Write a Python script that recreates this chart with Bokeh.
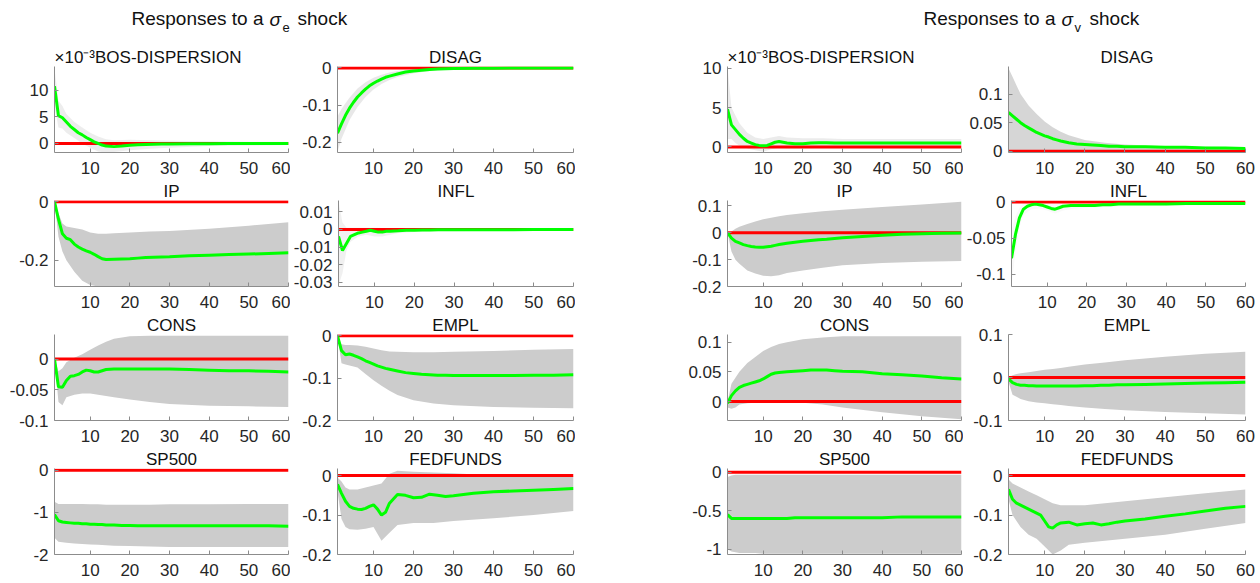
from bokeh.plotting import figure
from bokeh.layouts import column, row, Spacer
from bokeh.models import Range1d, FixedTicker, CustomJSTickFormatter, Title
from bokeh.embed import file_html
from bokeh.resources import INLINE
from bokeh.core.properties import value

# ---------------- data ----------------
horizon = [1, 2, 3, 4, 5, 6, 7, 8, 9, 10, 11, 12, 13, 14, 16, 18, 20, 22, 24, 26, 28, 30, 35, 40, 45, 50, 55, 60]
horizon_band = [1, 2, 3, 4, 6, 8, 10, 12, 14, 16, 20, 25, 30, 40, 50, 60]
zero_response = [0.0] * len(horizon)

variables = ["BOS-DISPERSION", "DISAG", "IP", "INFL", "CONS", "EMPL", "SP500", "FEDFUNDS"]
sci_prefix = "×10⁻³"   # BOS-DISPERSION is shown in units of 1e-3

# ---- responses to a sigma_e shock (BOS-DISPERSION in units of 1e-3) ----
bos_e_med = [10.7, 5.2, 4.8, 4.0, 3.2, 2.6, 2.0, 1.6, 1.1, 0.7, 0.3, 0.0, -0.3, -0.5, -0.6, -0.5, -0.35, -0.25, -0.2, -0.15, -0.1, -0.1, -0.05, -0.05, 0.0, 0.0, 0.0, 0.0]
bos_e_lo = [7.0, 3.0, 2.8, 2.0, 1.0, 0.0, -0.8, -1.5, -1.7, -1.6, -1.3, -1.0, -0.8, -0.5, -0.4, -0.3]
bos_e_hi = [14.0, 8.0, 7.0, 5.5, 4.0, 3.0, 2.0, 1.3, 0.8, 0.6, 0.7, 0.6, 0.5, 0.4, 0.3, 0.3]

disag_e_med = [-0.175, -0.15, -0.127, -0.108, -0.092, -0.078, -0.067, -0.057, -0.048, -0.041, -0.035, -0.03, -0.025, -0.022, -0.016, -0.011, -0.008, -0.006, -0.004, -0.003, -0.002, -0.0015, -0.001, -0.0005, -0.0003, -0.0002, -0.0001, 0.0]
disag_e_lo = [-0.225, -0.19, -0.165, -0.14, -0.105, -0.078, -0.058, -0.043, -0.032, -0.024, -0.014, -0.007, -0.004, -0.002, -0.001, -0.001]
disag_e_hi = [-0.13, -0.11, -0.095, -0.08, -0.055, -0.038, -0.026, -0.018, -0.012, -0.008, -0.004, -0.001, 0.001, 0.001, 0.001, 0.001]

ip_e_med = [0.0, -0.06, -0.11, -0.125, -0.13, -0.145, -0.155, -0.162, -0.168, -0.173, -0.18, -0.188, -0.195, -0.198, -0.197, -0.196, -0.195, -0.193, -0.191, -0.19, -0.189, -0.188, -0.185, -0.183, -0.181, -0.179, -0.177, -0.175]
ip_e_lo = [0.0, -0.12, -0.17, -0.2, -0.24, -0.27, -0.285, -0.29, -0.29, -0.29, -0.29, -0.29, -0.29, -0.29, -0.29, -0.29]
ip_e_hi = [0.0, -0.04, -0.075, -0.085, -0.09, -0.095, -0.105, -0.11, -0.11, -0.108, -0.105, -0.102, -0.1, -0.093, -0.082, -0.07]

infl_e_med = [-0.004, -0.012, -0.008, -0.004, -0.003, -0.002, -0.0015, -0.001, -0.0005, -0.001, -0.0015, -0.0015, -0.001, -0.001, -0.0008, -0.0005, -0.0004, -0.0003, -0.0003, -0.0002, -0.0002, -0.0002, -0.0001, -0.0001, -0.0001, 0.0, 0.0, 0.0]
infl_e_lo = [-0.032, -0.025, -0.012, -0.007, -0.004, -0.003, -0.004, -0.004, -0.003, -0.002, -0.0015, -0.001, -0.001, -0.0008, -0.0006, -0.0005]
infl_e_hi = [0.016, 0.004, 0.001, 0.001, 0.001, 0.001, 0.001, 0.0008, 0.0008, 0.0007, 0.0006, 0.0006, 0.0005, 0.0005, 0.0005, 0.0005]

cons_e_med = [0.0, -0.045, -0.046, -0.035, -0.028, -0.027, -0.025, -0.021, -0.018, -0.019, -0.021, -0.021, -0.019, -0.017, -0.016, -0.016, -0.016, -0.016, -0.016, -0.016, -0.016, -0.016, -0.017, -0.018, -0.019, -0.019, -0.02, -0.021]
cons_e_lo = [0.0, -0.07, -0.075, -0.062, -0.058, -0.056, -0.056, -0.058, -0.06, -0.062, -0.066, -0.07, -0.073, -0.076, -0.077, -0.078]
cons_e_hi = [0.0, -0.02, -0.015, -0.005, 0.002, 0.008, 0.015, 0.022, 0.028, 0.033, 0.037, 0.038, 0.038, 0.038, 0.038, 0.038]

empl_e_med = [0.0, -0.035, -0.045, -0.043, -0.046, -0.05, -0.054, -0.059, -0.063, -0.067, -0.071, -0.074, -0.077, -0.079, -0.083, -0.087, -0.089, -0.091, -0.092, -0.093, -0.093, -0.094, -0.094, -0.094, -0.094, -0.093, -0.093, -0.092]
empl_e_lo = [0.0, -0.065, -0.068, -0.07, -0.075, -0.09, -0.105, -0.118, -0.13, -0.14, -0.152, -0.16, -0.164, -0.168, -0.17, -0.171]
empl_e_hi = [0.0, -0.02, -0.022, -0.022, -0.023, -0.026, -0.03, -0.034, -0.037, -0.038, -0.039, -0.039, -0.038, -0.036, -0.033, -0.031]

sp500_e_med = [-1.05, -1.2, -1.23, -1.24, -1.25, -1.26, -1.26, -1.27, -1.27, -1.28, -1.28, -1.29, -1.29, -1.3, -1.3, -1.31, -1.31, -1.32, -1.32, -1.32, -1.32, -1.32, -1.32, -1.32, -1.32, -1.32, -1.32, -1.33]
sp500_e_lo = [-1.6, -1.7, -1.71, -1.72, -1.74, -1.75, -1.76, -1.77, -1.78, -1.79, -1.8, -1.81, -1.82, -1.82, -1.82, -1.82]
sp500_e_hi = [-0.75, -0.8, -0.8, -0.8, -0.8, -0.8, -0.81, -0.81, -0.82, -0.82, -0.82, -0.82, -0.81, -0.81, -0.8, -0.8]

fed_e_med = [-0.022, -0.045, -0.065, -0.078, -0.083, -0.085, -0.086, -0.083, -0.078, -0.074, -0.085, -0.1, -0.093, -0.07, -0.048, -0.05, -0.056, -0.055, -0.047, -0.05, -0.053, -0.051, -0.045, -0.041, -0.039, -0.037, -0.035, -0.033]
fed_e_lo = [-0.04, -0.11, -0.13, -0.136, -0.137, -0.135, -0.13, -0.165, -0.145, -0.125, -0.12, -0.12, -0.115, -0.108, -0.1, -0.09]
fed_e_hi = [-0.005, -0.015, -0.03, -0.035, -0.035, -0.03, -0.025, -0.02, 0.005, 0.012, 0.01, 0.008, 0.006, 0.0, 0.0, -0.002]

# ---- responses to a sigma_v shock ----
bos_v_med = [4.8, 2.8, 2.2, 1.6, 1.1, 0.7, 0.5, 0.3, 0.2, 0.15, 0.2, 0.4, 0.6, 0.7, 0.5, 0.4, 0.4, 0.5, 0.55, 0.55, 0.5, 0.5, 0.5, 0.5, 0.5, 0.5, 0.5, 0.5]
bos_v_lo = [1.0, 1.0, 0.5, 0.2, -0.2, -0.4, -0.6, -0.3, -0.1, -0.2, -0.2, -0.1, -0.1, -0.1, -0.1, -0.1]
bos_v_hi = [10.0, 5.0, 4.0, 3.0, 1.8, 1.2, 1.0, 1.2, 1.4, 1.2, 1.1, 1.1, 1.0, 1.0, 1.0, 1.0]

disag_v_med = [0.068, 0.062, 0.056, 0.05, 0.045, 0.041, 0.037, 0.033, 0.03, 0.027, 0.025, 0.022, 0.02, 0.018, 0.015, 0.013, 0.012, 0.011, 0.01, 0.009, 0.009, 0.008, 0.008, 0.007, 0.007, 0.006, 0.006, 0.005]
disag_v_lo = [0.002, 0.002, 0.002, 0.002, 0.001, 0.001, 0.001, 0.001, 0.001, 0.001, 0.001, 0.001, 0.001, 0.001, 0.001, 0.001]
disag_v_hi = [0.145, 0.13, 0.115, 0.1, 0.08, 0.065, 0.052, 0.042, 0.034, 0.028, 0.02, 0.015, 0.012, 0.009, 0.008, 0.007]

ip_v_med = [0.0, -0.02, -0.032, -0.038, -0.044, -0.048, -0.051, -0.053, -0.054, -0.054, -0.052, -0.05, -0.047, -0.044, -0.039, -0.035, -0.032, -0.029, -0.026, -0.024, -0.021, -0.019, -0.014, -0.009, -0.006, -0.004, -0.002, -0.001]
ip_v_lo = [0.0, -0.07, -0.1, -0.115, -0.14, -0.152, -0.16, -0.162, -0.158, -0.15, -0.14, -0.13, -0.121, -0.113, -0.108, -0.105]
ip_v_hi = [0.0, 0.005, 0.015, 0.022, 0.033, 0.042, 0.05, 0.056, 0.061, 0.066, 0.073, 0.08, 0.086, 0.096, 0.105, 0.115]

infl_v_med = [-0.078, -0.045, -0.022, -0.01, -0.006, -0.004, -0.003, -0.004, -0.005, -0.007, -0.009, -0.01, -0.008, -0.006, -0.005, -0.005, -0.005, -0.005, -0.004, -0.004, -0.003, -0.003, -0.003, -0.003, -0.002, -0.002, -0.002, -0.002]
infl_v_lo = [-0.115, -0.07, -0.035, -0.018, -0.01, -0.009, -0.012, -0.016, -0.012, -0.01, -0.008, -0.007, -0.006, -0.005, -0.005, -0.004]
infl_v_hi = [-0.04, -0.02, -0.008, -0.002, 0.0, 0.0, 0.0, -0.002, 0.0, 0.0, 0.0, 0.0, 0.0, 0.0, 0.0, 0.0]

cons_v_med = [-0.003, 0.01, 0.018, 0.024, 0.027, 0.029, 0.031, 0.033, 0.035, 0.038, 0.042, 0.046, 0.048, 0.049, 0.05, 0.051, 0.052, 0.053, 0.053, 0.053, 0.052, 0.051, 0.05, 0.047, 0.045, 0.043, 0.04, 0.038]
cons_v_lo = [-0.01, -0.012, -0.01, -0.005, -0.003, -0.002, -0.001, 0.0, 0.0, 0.0, -0.002, -0.005, -0.01, -0.018, -0.025, -0.03]
cons_v_hi = [0.0, 0.03, 0.04, 0.05, 0.065, 0.075, 0.085, 0.092, 0.097, 0.1, 0.105, 0.108, 0.11, 0.11, 0.11, 0.11]

empl_v_med = [-0.003, -0.012, -0.016, -0.018, -0.018, -0.019, -0.019, -0.02, -0.02, -0.02, -0.02, -0.02, -0.02, -0.02, -0.02, -0.02, -0.019, -0.019, -0.018, -0.018, -0.017, -0.017, -0.016, -0.015, -0.014, -0.013, -0.012, -0.011]
empl_v_lo = [-0.01, -0.04, -0.045, -0.05, -0.055, -0.058, -0.06, -0.062, -0.064, -0.066, -0.07, -0.073, -0.076, -0.08, -0.083, -0.086]
empl_v_hi = [0.0, 0.005, 0.008, 0.01, 0.012, 0.015, 0.018, 0.02, 0.022, 0.025, 0.03, 0.035, 0.04, 0.048, 0.055, 0.06]

sp500_v_med = [-0.55, -0.6, -0.6, -0.6, -0.6, -0.6, -0.6, -0.6, -0.6, -0.6, -0.6, -0.6, -0.6, -0.6, -0.6, -0.59, -0.59, -0.59, -0.59, -0.59, -0.59, -0.59, -0.59, -0.59, -0.58, -0.58, -0.58, -0.58]
sp500_v_lo = [-1.0, -1.03, -1.04, -1.05, -1.05, -1.05, -1.06, -1.06, -1.06, -1.06, -1.06, -1.06, -1.06, -1.06, -1.06, -1.06]
sp500_v_hi = [-0.06, -0.04, -0.03, -0.03, -0.03, -0.03, -0.03, -0.03, -0.03, -0.03, -0.03, -0.03, -0.03, -0.03, -0.03, -0.03]

fed_v_med = [-0.035, -0.06, -0.07, -0.075, -0.08, -0.085, -0.09, -0.095, -0.1, -0.115, -0.13, -0.133, -0.125, -0.12, -0.118, -0.125, -0.122, -0.12, -0.125, -0.122, -0.118, -0.115, -0.11, -0.103, -0.097, -0.09, -0.083, -0.078]
fed_v_lo = [-0.06, -0.1, -0.115, -0.13, -0.15, -0.16, -0.18, -0.2, -0.19, -0.175, -0.17, -0.165, -0.16, -0.15, -0.135, -0.12]
fed_v_hi = [-0.01, -0.02, -0.025, -0.03, -0.04, -0.05, -0.06, -0.07, -0.075, -0.075, -0.075, -0.07, -0.065, -0.055, -0.045, -0.035]

x_ticks = [10, 20, 30, 40, 50, 60]

# y ticks per panel
yticks_e = [[0, 5, 10], [-0.2, -0.1, 0], [-0.2, 0], [-0.03, -0.02, -0.01, 0, 0.01],
            [-0.1, -0.05, 0], [-0.2, -0.1, 0], [-2, -1, 0], [-0.2, -0.1, 0]]
yticks_v = [[0, 5, 10], [0, 0.05, 0.1], [-0.2, -0.1, 0, 0.1], [-0.1, -0.05, 0],
            [0, 0.05, 0.1], [-0.1, 0, 0.1], [-1, -0.5, 0], [-0.2, -0.1, 0]]

# ---------------- styles / layout ----------------
ylim_e = [(-1.7, 14.4), (-0.227, 0.004), (-0.29, 0.004), (-0.0325, 0.0165),
          (-0.1, 0.04), (-0.2, 0.003), (-2.0, 0.04), (-0.2, 0.018)]
ylim_v = [(-0.7, 10.2), (-0.002, 0.148), (-0.2, 0.12), (-0.117, 0.002),
          (-0.032, 0.113), (-0.1, 0.1), (-1.07, 0.05), (-0.2, 0.018)]
band_alpha_e = [0.35, 0.45, 1.0, 0.3, 1.0, 1.0, 1.0, 1.0]
band_alpha_v = [0.4, 0.8, 1.0, 0.12, 1.0, 1.0, 1.0, 1.0]

FONT = "Liberation Sans"
BAND = "#cccccc"
GREEN = "#00ff00"
RED = "#ff0000"
AXIS = "#8c8c8c"
TXT = "#262626"

BORDER_TOP = 20
FRAME_H = 87
BORDER_BOT = 27
HEADER_H = 45

# (width, min_border_left, min_border_right) for the 4 panel columns
col_specs = [(290, 54, 2), (285, 47, 2), (283, 47, 2), (295, 45, 13)]
GROUP_GAP = 105

fmt = CustomJSTickFormatter(code="return String(Math.round(tick*1e6)/1e6);")


def make_panel(name, med, lo, hi, ylim, yticks, band_alpha, spec, sci):
    width, bl, br = spec
    p = figure(width=width, height=BORDER_TOP + FRAME_H + BORDER_BOT,
               x_range=Range1d(1, 60), y_range=Range1d(*ylim),
               output_backend="svg", toolbar_location=None, title=None,
               min_border_left=bl, min_border_right=br,
               min_border_top=BORDER_TOP, min_border_bottom=BORDER_BOT)
    p.grid.visible = False
    p.outline_line_color = None
    p.background_fill_color = "white"
    p.border_fill_color = "white"

    p.varea(x=horizon_band, y1=lo, y2=hi, fill_color=BAND, fill_alpha=band_alpha)
    p.line(horizon, zero_response, line_color=RED, line_width=3)
    p.line(horizon, med, line_color=GREEN, line_width=3)

    p.xaxis.ticker = FixedTicker(ticks=x_ticks, minor_ticks=[])
    p.yaxis.ticker = FixedTicker(ticks=yticks, minor_ticks=[])
    p.yaxis.formatter = fmt
    for ax in (p.xaxis[0], p.yaxis[0]):
        ax.axis_line_color = AXIS
        ax.axis_line_width = 1
        ax.major_tick_line_color = AXIS
        ax.major_tick_in = 4
        ax.major_tick_out = 0
        ax.minor_tick_line_color = None
        ax.major_label_text_font = FONT
        ax.major_label_text_font_size = "17px"
        ax.major_label_text_color = TXT
    p.xaxis.major_label_standoff = 9
    p.yaxis.major_label_standoff = 6

    if sci:
        t = Title(text=sci_prefix + name, align="left", offset=0)
    else:
        t = Title(text=name, align="center")
    t.text_font = FONT
    t.text_font_size = "17px"
    t.text_font_style = "normal"
    t.text_color = "#111111"
    t.standoff = 0
    p.add_layout(t, "above")
    return p


series_e = [(bos_e_med, bos_e_lo, bos_e_hi), (disag_e_med, disag_e_lo, disag_e_hi),
            (ip_e_med, ip_e_lo, ip_e_hi), (infl_e_med, infl_e_lo, infl_e_hi),
            (cons_e_med, cons_e_lo, cons_e_hi), (empl_e_med, empl_e_lo, empl_e_hi),
            (sp500_e_med, sp500_e_lo, sp500_e_hi), (fed_e_med, fed_e_lo, fed_e_hi)]
series_v = [(bos_v_med, bos_v_lo, bos_v_hi), (disag_v_med, disag_v_lo, disag_v_hi),
            (ip_v_med, ip_v_lo, ip_v_hi), (infl_v_med, infl_v_lo, infl_v_hi),
            (cons_v_med, cons_v_lo, cons_v_hi), (empl_v_med, empl_v_lo, empl_v_hi),
            (sp500_v_med, sp500_v_lo, sp500_v_hi), (fed_v_med, fed_v_lo, fed_v_hi)]

# ---------------- header with the two group titles ----------------
TOTAL_W = sum(s[0] for s in col_specs) + GROUP_GAP
header = figure(width=TOTAL_W, height=HEADER_H, x_range=Range1d(0, TOTAL_W),
                y_range=Range1d(0, HEADER_H), output_backend="svg",
                toolbar_location=None, title=None, min_border=0)
header.axis.visible = False
header.grid.visible = False
header.outline_line_color = None

group_titles = [(263, "e"), (1055, "v")]   # (anchor x in px, subscript)
for gx, sub in group_titles:
    header.text(x=[gx], y=[27], text=["Responses to a"], text_align="right",
                text_baseline="middle", text_font=value(FONT),
                text_font_size="19px", text_color="#111111")
    header.text(x=[gx + 6], y=[26], text=["σ"], text_align="left",
                text_baseline="middle", text_font=value(FONT),
                text_font_style="italic", text_font_size="19px", text_color="#111111")
    header.text(x=[gx + 19], y=[18], text=[sub], text_align="left",
                text_baseline="middle", text_font=value(FONT),
                text_font_size="13px", text_color="#111111")
    header.text(x=[gx + 34], y=[27], text=["shock"], text_align="left",
                text_baseline="middle", text_font=value(FONT),
                text_font_size="19px", text_color="#111111")

rows = [header]
for r in range(4):
    i, j = 2 * r, 2 * r + 1
    h = BORDER_TOP + FRAME_H + BORDER_BOT
    figs = []
    for k, idx in enumerate((i, j)):
        m, lo, hi = series_e[idx]
        figs.append(make_panel(variables[idx], m, lo, hi, ylim_e[idx], yticks_e[idx],
                               band_alpha_e[idx], col_specs[k], idx == 0))
    figs.append(Spacer(width=GROUP_GAP, height=h))
    for k, idx in enumerate((i, j)):
        m, lo, hi = series_v[idx]
        figs.append(make_panel(variables[idx], m, lo, hi, ylim_v[idx], yticks_v[idx],
                               band_alpha_v[idx], col_specs[k + 2], idx == 0))
    rows.append(row(*figs))

layout = column(*rows)
open("out.html", "w").write(file_html(layout, INLINE))
